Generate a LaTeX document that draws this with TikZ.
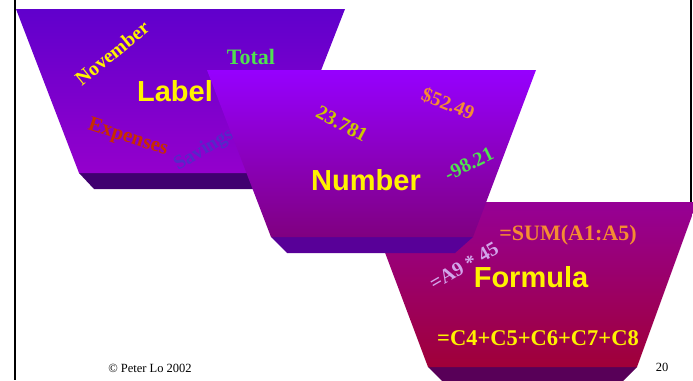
\documentclass[tikz,border=0pt]{standalone}
\usepackage{fontspec}
\setmainfont{Liberation Serif}
\newfontfamily\headfont{Liberation Sans}

\definecolor{labtop}{RGB}{96,0,204}
\definecolor{labbot}{RGB}{148,0,204}
\definecolor{labbase}{RGB}{64,0,112}
\definecolor{numtop}{RGB}{150,0,255}
\definecolor{numbot}{RGB}{128,0,128}
\definecolor{numbase}{RGB}{88,0,152}
\definecolor{fortop}{RGB}{150,0,150}
\definecolor{forbot}{RGB}{160,0,56}
\definecolor{forbase}{RGB}{88,0,88}
\definecolor{txtgreen}{RGB}{80,225,80}
\definecolor{txtred}{RGB}{200,45,0}
\definecolor{txtblue}{RGB}{85,40,200}
\definecolor{txtolive}{RGB}{205,200,0}
\definecolor{txtorange}{RGB}{245,140,50}
\definecolor{txtlilac}{RGB}{210,165,235}

\newcommand{\fsz}[1]{\fontsize{#1}{#1}\selectfont}

\begin{document}
\begin{tikzpicture}[x=1pt, y=-1pt, line width=0.5pt,
  tag/.style={inner sep=0pt, font=\bfseries\fsz{20}},
  head/.style={inner sep=0pt, text=yellow, font=\headfont\bfseries\fsz{29}}]
  \clip (0,0) rectangle (693,380);
  % frame
  \draw[line width=2pt] (15,0) -- (15,380);
  \draw[line width=2pt] (691,0) -- (691,213);
  % Label box
  \fill[labbase] (79,173) -- (281,173) -- (265,189) -- (94,189) -- cycle;
  \shade[top color=labtop, bottom color=labbot] (16,9) -- (345,9) -- (281,173) -- (79,173) -- cycle;
  \node[head] (label) at (175,91) {Label};
  \node[tag, text=yellow, rotate=39] (nov) at (112,53) {November};
  \node[tag, text=txtgreen, font=\bfseries\fsz{22}] (total) at (251,57) {Total};
  \node[tag, text=txtred, rotate=-18, font=\bfseries\fsz{21}] (exp) at (128,138) {Expenses};
  \node[tag, text=txtblue, rotate=31] (sav) at (204,150) {Savings};
  % Formula box
  \fill[forbase] (428,367) -- (637,367) -- (621,383) -- (444,383) -- cycle;
  \shade[top color=fortop, bottom color=forbot] (366,202) -- (697,202) -- (637,367) -- (428,367) -- cycle;
  \node[head] (formula) at (531,277) {Formula};
  \node[tag, text=txtorange, font=\bfseries\fsz{22}] (sum) at (568,235) {=SUM(A1:A5)};
  \node[tag, text=txtlilac, rotate=30] (mul) at (464,266) {=A9 * 45};
  \node[tag, text=yellow, font=\bfseries\fsz{22.5}] (add) at (538,338) {=C4+C5+C6+C7+C8};
  % Number box
  \fill[numbase] (271,237) -- (473,237) -- (455,253) -- (287,253) -- cycle;
  \shade[top color=numtop, bottom color=numbot] (207,70) -- (536,70) -- (473,237) -- (271,237) -- cycle;
  \node[head] (number) at (366,180) {Number};
  \node[tag, text=txtolive, rotate=-28] (dec) at (342,124) {23.781};
  \node[tag, text=txtorange, rotate=-22] (cash) at (448,104) {\$52.49};
  \node[tag, text=txtgreen, rotate=26] (neg) at (469,164) {-98.21};
  % footer
  \node[inner sep=0pt, font=\fsz{12.5}] (copy) at (150,368) {\textcopyright{} Peter Lo 2002};
  \node[inner sep=0pt, font=\fsz{12.5}] (page) at (662,367) {20};
\end{tikzpicture}
\end{document}
